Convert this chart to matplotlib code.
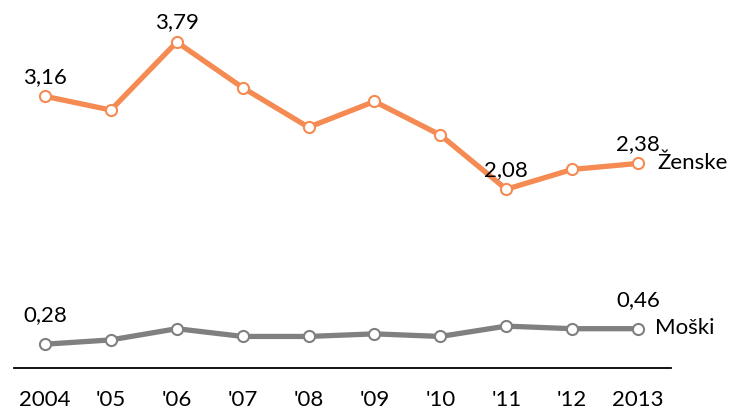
import matplotlib.pyplot as plt

plt.rcParams['font.family'] = ['Lato', 'DejaVu Sans']

years = ['2004', "'05", "'06", "'07", "'08", "'09", "'10", "'11", "'12", '2013']
zenske = [3.16, 3.00, 3.79, 3.26, 2.80, 3.10, 2.71, 2.08, 2.31, 2.38]
moski = [0.28, 0.33, 0.46, 0.37, 0.37, 0.40, 0.37, 0.49, 0.46, 0.46]

# points that carry a value label
zenske_labels = [0, 2, 7, 9]
moski_labels = [0, 9]

orange = '#F58A52'
grey = '#808080'
fs = 16

fig = plt.figure(figsize=(7.53, 4.10), dpi=100)
ax = fig.add_axes([14 / 753, 1 - 369.3 / 410, 657 / 753, 369.3 / 410])

x = list(range(len(years)))
for vals, col in [(zenske, orange), (moski, grey)]:
    ax.plot(x, vals, color=col, lw=3.8, marker='o', ms=8, mfc='white',
            mec=col, mew=1.5, clip_on=False, zorder=3)

for i in zenske_labels:
    ax.annotate(f'{zenske[i]:.2f}'.replace('.', ','), (x[i], zenske[i]),
                xytext=(0, 10.5), textcoords='offset points',
                ha='center', va='baseline', fontsize=fs)
for i in moski_labels:
    ax.annotate(f'{moski[i]:.2f}'.replace('.', ','), (x[i], moski[i]),
                xytext=(0, 17), textcoords='offset points',
                ha='center', va='baseline', fontsize=fs)

ax.annotate('Ženske', (x[-1], zenske[-1]), xytext=(14, -3),
            textcoords='offset points', ha='left', va='baseline', fontsize=fs)
ax.annotate('Moški', (x[-1], moski[-1]), xytext=(12, -3),
            textcoords='offset points', ha='left', va='baseline', fontsize=fs)

ax.set_xlim(-0.47, 9.5)
ax.set_ylim(0, 4.29)
ax.set_xticks(x)
ax.set_xticklabels(years, fontsize=fs)
ax.set_yticks([])
ax.tick_params(axis='x', length=0, pad=15)
for s in ['top', 'right', 'left']:
    ax.spines[s].set_visible(False)
ax.spines['bottom'].set_linewidth(1.3)
ax.patch.set_alpha(0)

fig.savefig('out.png', dpi=100)
